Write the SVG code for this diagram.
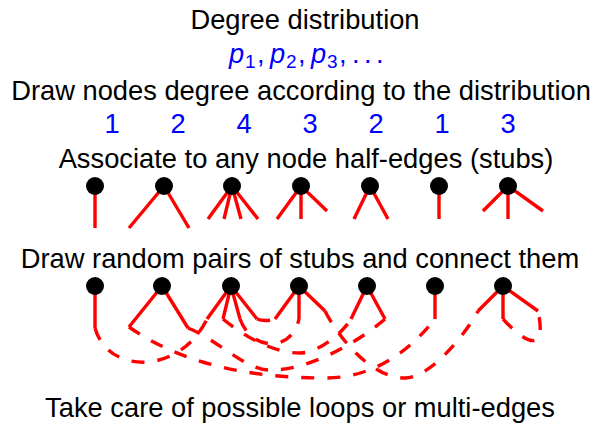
<svg xmlns="http://www.w3.org/2000/svg" width="601" height="424" viewBox="0 0 601 424">
<style>
text{font-family:"Liberation Sans",Arial,Helvetica,sans-serif;font-size:27.3px;fill:#000}
.b{fill:#0000ff}
.it{font-style:italic}
.sub{font-size:19px}
.stub{stroke:#ff0000;stroke-width:3.4;fill:none;stroke-linecap:butt}
.edge{stroke:#ff0000;stroke-width:3.4;fill:none;stroke-dasharray:13 13;stroke-linecap:butt}
.n{fill:#000}
</style>
<rect width="601" height="424" fill="#fff"/>
<g id="texts">
<text x="305" y="29" text-anchor="middle">Degree distribution</text>
<text class="b" y="63"><tspan class="it" x="229">p</tspan><tspan class="sub" x="245" y="68">1</tspan><tspan x="257" y="63">,</tspan><tspan class="it" x="270">p</tspan><tspan class="sub" x="286" y="68">2</tspan><tspan x="298" y="63">,</tspan><tspan class="it" x="311">p</tspan><tspan class="sub" x="327" y="68">3</tspan><tspan x="339" y="63">,</tspan><tspan x="352">.</tspan><tspan x="364">.</tspan><tspan x="376">.</tspan></text>
<text x="301" y="100" text-anchor="middle">Draw nodes degree according to the distribution</text>
<g class="b" text-anchor="middle">
<text class="b" x="112" y="133">1</text>
<text class="b" x="178" y="133">2</text>
<text class="b" x="244" y="133">4</text>
<text class="b" x="310" y="133">3</text>
<text class="b" x="376" y="133">2</text>
<text class="b" x="442" y="133">1</text>
<text class="b" x="508" y="133">3</text>
</g>
<text x="306" y="168" text-anchor="middle">Associate to any node half-edges (stubs)</text>
<text x="300" y="268" text-anchor="middle">Draw random pairs of stubs and connect them</text>
<text x="300" y="417" text-anchor="middle">Take care of possible loops or multi-edges</text>
</g>
<g id="connectors">
<path class="edge" d="M95,328 C108,375 180,375 207,319"/>
<path class="edge" d="M129,327 C179,362 245,378 325,378 C375,378 410,350 435,319"/>
<path class="edge" d="M188,328 C218,340 245,370 270,370 C305,371 355,345 385,319"/>
<path class="edge" d="M223,319 C240,333 270,353 300,353 C320,353 345,330 351,319"/>
<path class="edge" d="M240,319 C252,352 292,352 299,319"/>
<path class="edge" d="M257,319 C262,321 270,321 275,319"/>
<path class="edge" d="M325,311 C337,335 370,378 405,378 C430,378 465,335 478,311"/>
<path class="edge" d="M503,319 C522,340 548,358 538,311"/>
</g>
<g id="r1n1"><path class="stub" d="M95,186 L95,228"/><circle class="n" cx="95" cy="186" r="9"/></g>
<g id="r1n2"><path class="stub" d="M164,186 L129,228 M164,186 L189,228"/><circle class="n" cx="164" cy="186" r="9"/></g>
<g id="r1n3"><path class="stub" d="M232,186 L208,219 M232,186 L224,219 M232,186 L241,219 M232,186 L258,219"/><circle class="n" cx="232" cy="186" r="9"/></g>
<g id="r1n4"><path class="stub" d="M301,186 L277,219 M301,186 L301,219 M301,186 L327,211"/><circle class="n" cx="301" cy="186" r="9"/></g>
<g id="r1n5"><path class="stub" d="M370,186 L354,219 M370,186 L388,219"/><circle class="n" cx="370" cy="186" r="9"/></g>
<g id="r1n6"><path class="stub" d="M439,186 L439,219"/><circle class="n" cx="439" cy="186" r="9"/></g>
<g id="r1n7"><path class="stub" d="M508,186 L483,211 M508,186 L508,219 M508,186 L543,211"/><circle class="n" cx="508" cy="186" r="9"/></g>
<g id="r2n1"><path class="stub" d="M95,286 L95,328"/><circle class="n" cx="95" cy="286" r="9"/></g>
<g id="r2n2"><path class="stub" d="M162,286 L129,327 M162,286 L188,328"/><circle class="n" cx="162" cy="286" r="9"/></g>
<g id="r2n3"><path class="stub" d="M231,286 L207,319 M231,286 L223,319 M231,286 L240,319 M231,286 L257,319"/><circle class="n" cx="231" cy="286" r="9"/></g>
<g id="r2n4"><path class="stub" d="M299,286 L275,319 M299,286 L299,319 M299,286 L325,311"/><circle class="n" cx="299" cy="286" r="9"/></g>
<g id="r2n5"><path class="stub" d="M367,286 L351,319 M367,286 L385,319"/><circle class="n" cx="367" cy="286" r="9"/></g>
<g id="r2n6"><path class="stub" d="M435,286 L435,319"/><circle class="n" cx="435" cy="286" r="9"/></g>
<g id="r2n7"><path class="stub" d="M503,286 L478,311 M503,286 L503,319 M503,286 L538,311"/><circle class="n" cx="503" cy="286" r="9"/></g>
</svg>
